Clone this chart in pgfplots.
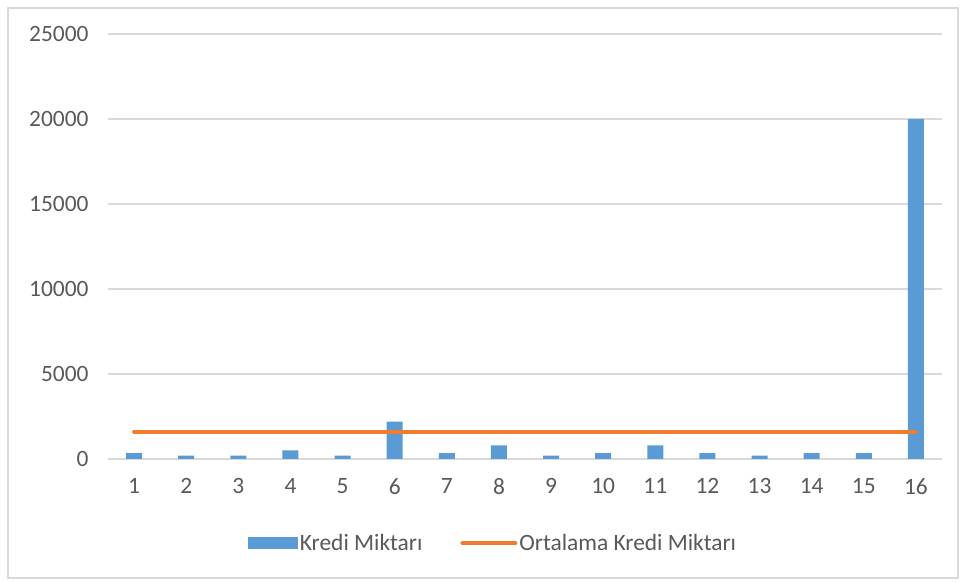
\documentclass[border=0pt]{standalone}
\usepackage{pgfplots}
\pgfplotsset{compat=1.18}
\usepackage{fontspec}
\setmainfont{Carlito}
\definecolor{barblue}{HTML}{5B9BD5}
\definecolor{lineorange}{HTML}{ED7D31}
\definecolor{gridgray}{HTML}{D9D9D9}
\definecolor{textgray}{HTML}{595959}
\begin{document}
\begin{tikzpicture}
\useasboundingbox (0,0) rectangle (965bp,583bp);
\draw[gridgray, line width=1.5bp] (8bp,5bp) rectangle (958bp,575bp);
\begin{axis}[
 at={(108bp,124bp)}, anchor=south west,
 scale only axis, width=834bp, height=425bp,
 xmin=0.5, xmax=16.5, ymin=0, ymax=25000,
 xtick={1,...,16}, ytick={0,5000,...,25000},
 scaled y ticks=false,
 axis x line*=bottom, axis y line*=left,
 y axis line style={draw=none},
 x axis line style={gridgray, line width=1.5bp, -},
 major tick length=0pt,
 ymajorgrids, major grid style={gridgray, line width=1.2bp},
 tick label style={font=\fontsize{23.5}{27}\selectfont, text=textgray},
 /pgf/number format/assume math mode=true,
 /pgf/number format/1000 sep={},
 yticklabel style={xshift=-16bp},
 xticklabel style={yshift=-16bp},
 legend style={at={(0.4616,-0.198)}, anchor=center, draw=none, legend columns=2,
   font=\fontsize{23.5}{27}\selectfont, text=textgray, inner xsep=0pt,
   /tikz/every even column/.append style={column sep=36bp}},
 legend cell align=left,
]
\addplot[ybar, bar width=16bp, fill=barblue, draw=none,
  legend image code/.code={\fill[barblue] (0bp,-6.3bp) rectangle (50bp,6.3bp);}]
 coordinates {(1,350) (2,200) (3,200) (4,500) (5,200) (6,2200) (7,350) (8,800)
  (9,200) (10,350) (11,800) (12,350) (13,200) (14,350) (15,350) (16,20000)};
\addlegendentry{Kredi Miktarı}
\addplot[lineorange, line width=4bp, line cap=round, mark=none,
  legend image code/.code={\draw[lineorange, line width=4bp, line cap=round] (2bp,0bp) -- (55bp,0bp);}]
 coordinates {(1,1600) (16,1600)};
\addlegendentry{Ortalama Kredi Miktarı}
\end{axis}
\end{tikzpicture}
\end{document}
